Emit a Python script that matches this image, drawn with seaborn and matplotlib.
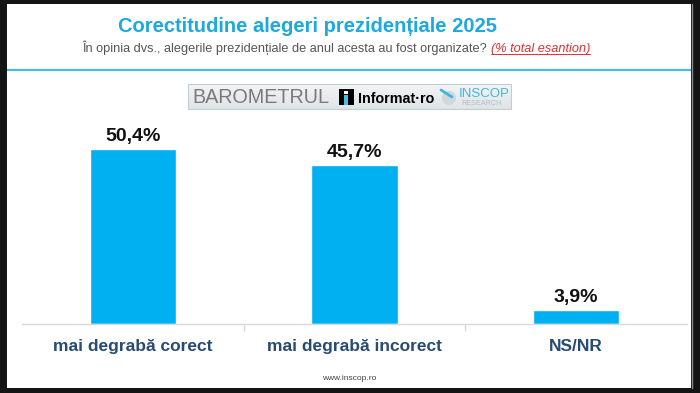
import matplotlib
matplotlib.use('Agg')
import matplotlib.pyplot as plt
import seaborn as sns
import pandas as pd
import numpy as np
from matplotlib.patches import Rectangle, Circle
from matplotlib.colors import LinearSegmentedColormap

# ---- data ----
categories = ['mai degrabă corect', 'mai degrabă incorect', 'NS/NR']
values = [50.4, 45.7, 3.9]
value_labels = ['50,4%', '45,7%', '3,9%']
title = 'Corectitudine alegeri prezidențiale 2025'
subtitle = 'În opinia dvs., alegerile prezidențiale de anul acesta au fost organizate?'
subtitle_note = '(% total eșantion)'
footer = 'www.inscop.ro'

sns.set_theme(style='white')
plt.rcParams['font.family'] = ['Liberation Sans', 'DejaVu Sans']

W, H = 700, 393
fig = plt.figure(figsize=(7, 3.93), dpi=100, facecolor='#141414')

# overlay axes in pixel coordinates for slide decoration
ov = fig.add_axes([0, 0, 1, 1], zorder=0)
ov.axis('off')

# white slide
ov.add_patch(Rectangle((7, 4), 684, 384, facecolor='white', edgecolor='none'))
ov.plot([691.5, 691.5], [4, 388], color='#8a8a8a', lw=1)

# title
ov.text(307, 32, title, fontsize=14.5, fontweight='bold', color='#1ba9df',
        ha='center', va='baseline')
# subtitle
t1 = ov.text(82, 52, subtitle, fontsize=9.2, color='#555555', ha='left', va='baseline')
# separator line
ov.plot([7, 691], [70, 70], color='#45bde0', lw=1.6, solid_capstyle='butt')

# logo box with gradient
grad = np.linspace(0, 1, 64).reshape(-1, 1)
cmap = LinearSegmentedColormap.from_list('g', ['#f3f5f6', '#dfe4e6'])
ov.imshow(grad, extent=[188, 511, 109, 84], aspect='auto', cmap=cmap, zorder=1)
ov.add_patch(Rectangle((188, 84), 323, 25, facecolor='none', edgecolor='#c3cdd2', lw=0.8, zorder=2))
ov.text(192, 97.5, 'BAROMETRUL', fontsize=14.2, color='#7a7a7a', ha='left', va='center', zorder=3)
ov.add_patch(Rectangle((339, 89), 15, 16, facecolor='black', edgecolor='none', zorder=3))
ov.add_patch(Rectangle((344, 95), 4, 10, facecolor='#4bbde3', edgecolor='none', zorder=4))
ov.add_patch(Rectangle((344, 91), 4, 2.5, facecolor='white', edgecolor='none', zorder=4))
ov.text(358, 99, 'Informat·ro', fontsize=10.3, fontweight='bold', color='black',
        ha='left', va='center', zorder=3)
ov.add_patch(Circle((449, 98), 7, facecolor='#cfd8dc', edgecolor='none', zorder=3))
ov.plot([441, 452], [90, 97], color='#3fb6df', lw=2, zorder=4)
ov.text(459, 94, 'INSCOP', fontsize=9.5, color='#3fb6df', ha='left', va='center', zorder=3)
ov.text(461, 103.5, 'RESEARCH', fontsize=5.2, color='#b3bcc0', ha='left', va='center', zorder=3)

# footer
ov.text(349, 379, footer, fontsize=6, color='#444444', ha='center', va='center')

ov.set_xlim(0, W)
ov.set_ylim(H, 0)

# ---- bar chart ----
ax = fig.add_axes([22 / W, 1 - 324 / H, (687 - 22) / W, (324 - 120) / H], zorder=1)
df = pd.DataFrame({'cat': categories, 'val': values})
sns.barplot(data=df, x='cat', y='val', order=categories, color='#00b0f0',
            saturation=1, width=0.39, ax=ax)
ax.set_xlim(-0.5, 2.5)
ax.set_ylim(0, 204 / 3.47)
ax.patch.set_alpha(0)
ax.bar_label(ax.containers[0], labels=value_labels, padding=3, fontsize=14,
             fontweight='bold', color='#111111')
ax.set_xlabel('')
ax.set_ylabel('')
ax.set_yticks([])
for s in ['top', 'left', 'right']:
    ax.spines[s].set_visible(False)
ax.spines['bottom'].set_color('#d9d9d9')
ax.spines['bottom'].set_linewidth(1)
ax.tick_params(axis='x', which='major', length=0, pad=11, labelsize=12.5, labelcolor='#284b73')
for t in ax.get_xticklabels():
    t.set_fontweight('bold')
ax.set_xticks([0.5, 1.5], minor=True)
ax.tick_params(axis='x', which='minor', length=5, color='#d9d9d9', width=1, direction='out', bottom=True)

# red note after subtitle, underlined
fig.canvas.draw()
r = fig.canvas.get_renderer()
bb = t1.get_window_extent(r)
x_note = bb.x1 + 4
t2 = ov.text(x_note, 52, subtitle_note, fontsize=9.2, color='#e03030', style='italic',
             ha='left', va='baseline')
fig.canvas.draw()
bb2 = t2.get_window_extent(r)
ov.plot([bb2.x0, bb2.x1], [54, 54], color='#e03030', lw=0.7)
ov.set_xlim(0, W)
ov.set_ylim(H, 0)

fig.savefig('out.png', dpi=100, facecolor=fig.get_facecolor())
